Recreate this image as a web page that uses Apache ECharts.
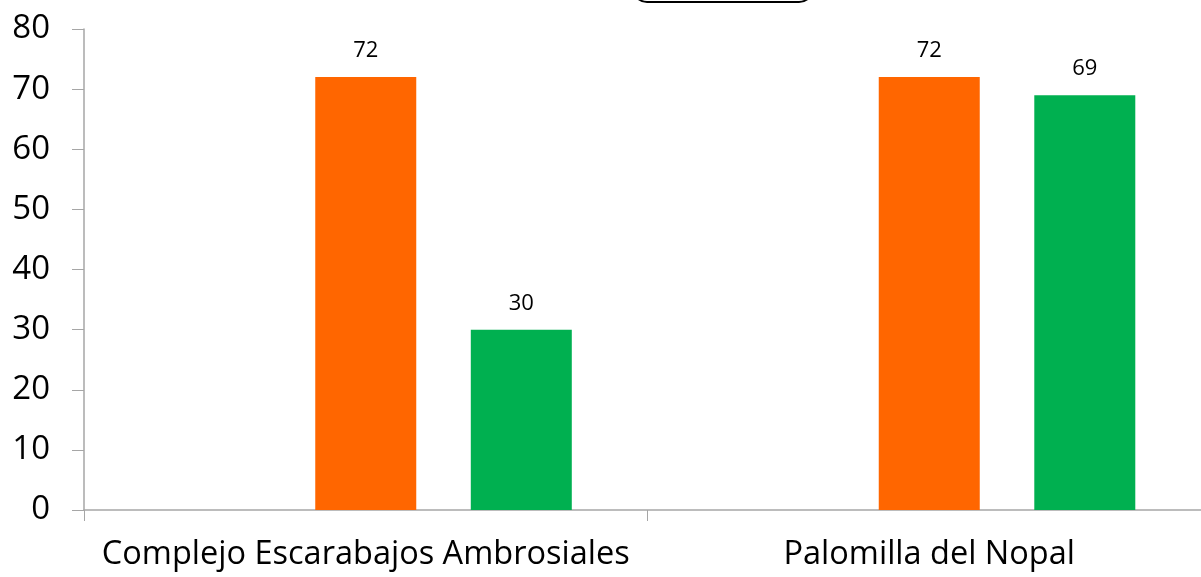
<!DOCTYPE html>
<html>
<head>
<meta charset="utf-8">
<script src="https://cdn.jsdelivr.net/npm/echarts@6/dist/echarts.min.js"></script>
<style>
  html, body { margin: 0; padding: 0; background: #fff; }
  #main { width: 1201px; height: 577px; }
</style>
</head>
<body>
<div id="main"></div>
<script>
// datos del grafico
var categorias = ['Complejo Escarabajos Ambrosiales', 'Palomilla del Nopal'];
var serieVacia = [null, null];
var serieNaranja = [72, 72];
var serieVerde = [30, 69];
var ticksY = [0, 10, 20, 30, 40, 50, 60, 70, 80];

var myChart = echarts.init(document.getElementById('main'));

var fuente = '"Open Sans", "Noto Sans", sans-serif';

var option = {
    animation: false,
    grid: {
        left: 84,
        right: -10,
        top: 29,
        bottom: 67,
        containLabel: false,
        outerBoundsMode: 'none'
    },
    graphic: [{
        type: 'rect',
        shape: { x: 633, y: -40, width: 180, height: 42, r: 14 },
        style: { fill: '#fff', stroke: '#000', lineWidth: 2 },
        z: 100
    }],
    xAxis: {
        type: 'category',
        data: categorias,
        axisLine: { lineStyle: { color: '#A6A6A6', width: 1.5 } },
        axisTick: { show: true, length: 11, lineStyle: { color: '#A6A6A6' } },
        axisLabel: {
            interval: 0,
            hideOverlap: false,
            color: '#000',
            fontSize: 32.5,
            fontFamily: fuente,
            margin: 28
        }
    },
    yAxis: {
        type: 'value',
        min: ticksY[0],
        max: ticksY[ticksY.length - 1],
        interval: 10,
        splitLine: { show: false },
        axisLine: { show: true, lineStyle: { color: '#A6A6A6', width: 1.5 } },
        axisTick: { show: true, length: 12, lineStyle: { color: '#A6A6A6' } },
        axisLabel: {
            color: '#000',
            fontSize: 33,
            fontFamily: fuente,
            margin: 34
        }
    },
    series: [{
        name: 'vacia',
        type: 'bar',
        barWidth: 101,
        barGap: '54%',
        data: serieVacia
    }, {
        name: 'naranja',
        type: 'bar',
        barWidth: 101,
        barGap: '54%',
        itemStyle: { color: '#FF6600' },
        label: {
            show: true,
            position: 'top',
            distance: 15,
            color: '#000',
            fontSize: 22,
            fontFamily: fuente
        },
        data: serieNaranja
    }, {
        name: 'verde',
        type: 'bar',
        barWidth: 101,
        barGap: '54%',
        itemStyle: { color: '#00B050' },
        label: {
            show: true,
            position: 'top',
            distance: 15,
            color: '#000',
            fontSize: 22,
            fontFamily: fuente
        },
        data: serieVerde
    }]
};

myChart.setOption(option);
</script>
</body>
</html>
